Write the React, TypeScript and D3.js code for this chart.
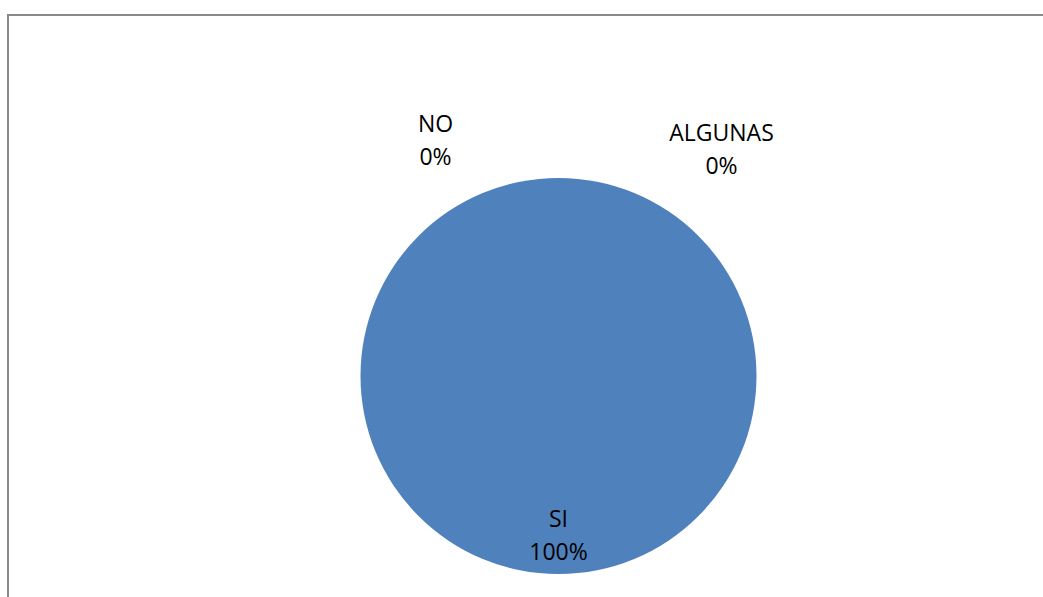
import React from "react";
import * as d3 from "d3";

const categories = ["SI", "NO", "ALGUNAS"];
const values = [100, 0, 0];
const percentLabels = ["100%", "0%", "0%"];

const W = 1043;
const H = 597;
const cx = 558.5;
const cy = 376;
const R = 198;
// Excel-style label placements for zero-size slices (offsets from pie centre)
const labelOffsets: Record<string, [number, number] | null> = {
  SI: null,
  NO: [-123, -237],
  ALGUNAS: [163, -228],
};
const FONT = "'Open Sans', 'Liberation Sans', sans-serif";

export default function App() {
  const data = categories.map((c, i) => ({ cat: c, value: values[i], label: percentLabels[i] }));
  const pie = d3.pie<any>().sort(null).value((d) => d.value);
  const arcs = pie(data);
  const arc = d3.arc<any>().innerRadius(0).outerRadius(R);
  const labelArc = d3.arc<any>().innerRadius(R * 0.8).outerRadius(R * 0.8);

  return (
    <svg
      width={W}
      height={H}
      style={{ position: "absolute", left: 0, top: 0, display: "block", background: "#fff" }}
    >
      <rect x={8} y={15} width={1200} height={1000} fill="none" stroke="#898989" strokeWidth={2} />
      <g transform={`translate(${cx},${cy})`}>
        {arcs.map((a, i) =>
          a.data.value > 0 ? (
            <path key={i} d={arc(a) as string} fill="#4F81BD" />
          ) : null
        )}
        {arcs.map((a, i) => {
          const off = labelOffsets[a.data.cat];
          const [x, y] = off ? off : labelArc.centroid(a);
          return (
            <text
              key={"l" + i}
              x={x}
              y={y}
              textAnchor="middle"
              fontFamily={FONT}
              fontSize={23}
              fill="#000"
            >
              <tspan x={x} dy={-7}>{a.data.cat}</tspan>
              <tspan x={x} dy={33}>{a.data.label}</tspan>
            </text>
          );
        })}
      </g>
    </svg>
  );
}
